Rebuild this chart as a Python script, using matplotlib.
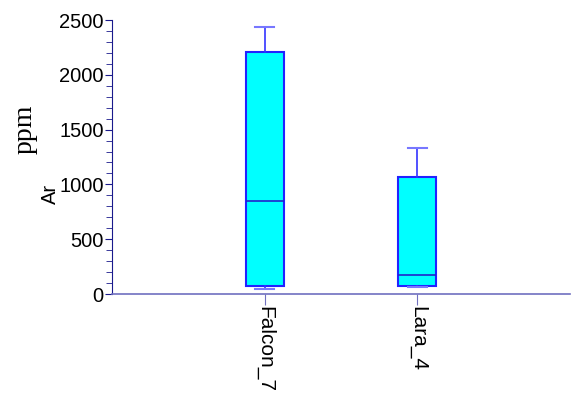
import matplotlib
matplotlib.use("Agg")
import matplotlib.pyplot as plt
from matplotlib.ticker import MultipleLocator

plt.rcParams['font.family'] = ['Liberation Sans', 'DejaVu Sans']

groups = ["Falcon_7", "Lara_4"]
whislo = [46, 61]
q1 = [73, 73]
med = [846, 176]
q3 = [2211, 1063]
whishi = [2439, 1330]

stats = []
for i, g in enumerate(groups):
    stats.append({"label": g, "whislo": whislo[i], "q1": q1[i], "med": med[i],
                  "q3": q3[i], "whishi": whishi[i], "fliers": []})

fig = plt.figure(figsize=(5.72, 3.94), dpi=100)
ax = fig.add_axes([112/572, 100/394, 458/572, 274/394])

ax.bxp(stats, positions=[1, 2], widths=0.25, patch_artist=True,
       boxprops=dict(facecolor="#00ffff", edgecolor="#2222ff", linewidth=1.5),
       medianprops=dict(color="#2222cc", linewidth=1.2),
       whiskerprops=dict(color="#3333ff", linewidth=1.2),
       capprops=dict(color="#7777ff", linewidth=1.5),
       capwidths=0.125, showfliers=False)

ax.set_xlim(0, 3)
ax.set_ylim(0, 2500)
ax.set_xticks([1, 2])
ax.set_xticklabels(groups, rotation=270, fontsize=15)
ax.yaxis.set_major_locator(MultipleLocator(500))
ax.yaxis.set_minor_locator(MultipleLocator(100))
ax.tick_params(axis="y", which="major", length=5, color="#1a1a8c", labelsize=14.5, pad=1)
ax.tick_params(axis="y", which="minor", length=4, color="#1a1a8c")
ax.tick_params(axis="x", length=8, color="#7070c0", labelsize=15, pad=1)

for s in ["top", "right"]:
    ax.spines[s].set_visible(False)
ax.spines["left"].set_color("#1a1a8c")
ax.spines["bottom"].set_color("#7070c0")
ax.spines["bottom"].set_linewidth(1.2)

fig.text(25/572, 1 - 129/394, "ppm", rotation=90, family="Liberation Serif",
         fontsize=20, ha="center", va="center")
fig.text(50/572, 1 - 194/394, "Ar", rotation=90, fontsize=14.5,
         ha="center", va="center")

fig.savefig("out.png", dpi=100)
